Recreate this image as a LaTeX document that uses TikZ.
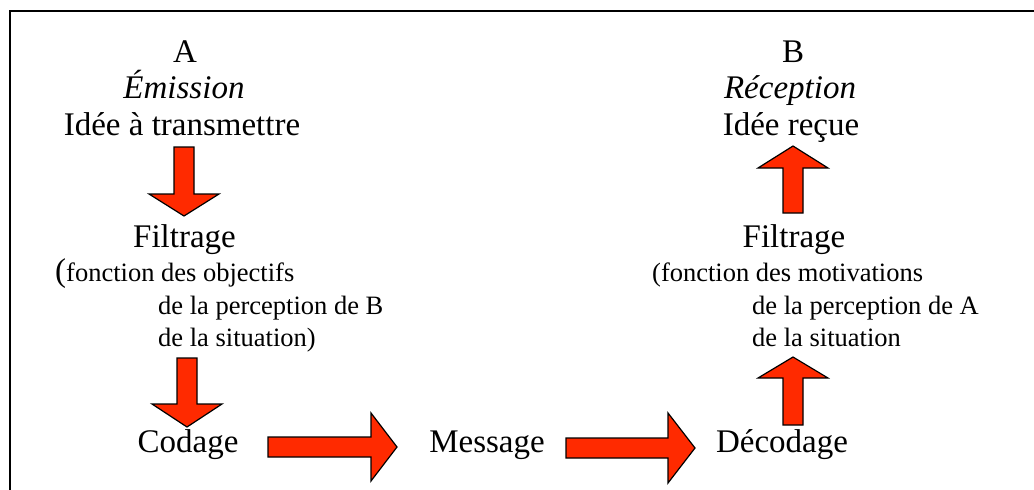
\documentclass[tikz,border=0pt]{standalone}
\usepackage{fontspec}
\setmainfont{Liberation Serif}
\definecolor{arrowred}{RGB}{255,42,0}
\begin{document}
\begin{tikzpicture}[x=1pt,y=-1pt,
  big/.style={inner sep=0pt,anchor=base,font=\fontsize{33}{36}\selectfont},
  bigit/.style={big,font=\fontsize{33}{36}\selectfont\itshape},
  small/.style={inner sep=0pt,anchor=base west,font=\fontsize{26.5}{30}\selectfont},
  blockarrow/.style={fill=arrowred,draw=black,line width=1.2pt,line join=miter},
  frame/.style={draw=black,line width=1.6pt}]
\useasboundingbox (0,0) rectangle (1034,490);
\draw[frame] (10,490) -- (10,11) -- (1034,11);
% left column
\node[big] (A) at (185,62) {A};
\node[bigit] (emis) at (184,98) {Émission};
\node[big] (ideeA) at (182,135) {Idée à transmettre};
\node[big] (filtA) at (184.5,247) {Filtrage};
\node[small] (fA1) at (55,281) {{\fontsize{33}{36}\selectfont(}fonction des objectifs};
\node[small] (fA2) at (158,314) {de la perception de B};
\node[small] (fA3) at (158,346) {de la situation)};
\node[big] (cod) at (188,452) {Codage};
% middle
\node[big] (msg) at (487,452) {Message};
% right column
\node[big] (B) at (793,62) {B};
\node[bigit] (recep) at (790,98) {Réception};
\node[big] (ideeB) at (791,135) {Idée reçue};
\node[big] (filtB) at (794,247) {Filtrage};
\node[small] (fB1) at (652,281) {(fonction des motivations};
\node[small] (fB2) at (752,314) {de la perception de A};
\node[small] (fB3) at (752,346) {de la situation};
\node[big] (decod) at (782,452) {Décodage};
% block arrows
% ideeA -> filtA
\path[blockarrow] (174,147) -- (194,147) -- (194,194) -- (219,194) -- (184,216) -- (149,194) -- (174,194) -- cycle;
% fA3 -> cod
\path[blockarrow] (177,358) -- (197,358) -- (197,404) -- (222,404) -- (187,427) -- (152,404) -- (177,404) -- cycle;
% cod -> msg
\path[blockarrow] (268,437) -- (371,437) -- (371,413) -- (397,447) -- (371,481) -- (371,457) -- (268,457) -- cycle;
% msg -> decod
\path[blockarrow] (566,438) -- (668,438) -- (668,413) -- (695,448) -- (668,483) -- (668,458) -- (566,458) -- cycle;
% decod -> fB3
\path[blockarrow] (783,425) -- (783,378) -- (758,378) -- (793,357) -- (828,378) -- (803,378) -- (803,425) -- cycle;
% filtB -> ideeB
\path[blockarrow] (783,213) -- (783,168) -- (758,168) -- (793,146) -- (828,168) -- (803,168) -- (803,213) -- cycle;
\end{tikzpicture}
\end{document}
